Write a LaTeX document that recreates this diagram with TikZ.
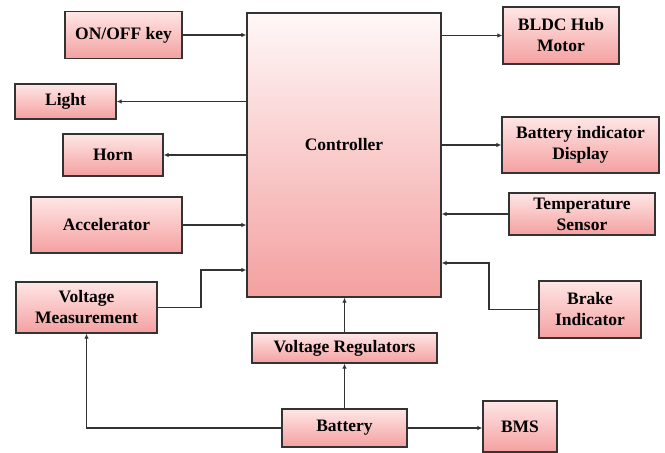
\documentclass[tikz,border=0pt]{standalone}
\usepackage{fontspec}
\setmainfont{Liberation Serif}
\usetikzlibrary{arrows.meta}
\definecolor{edgec}{HTML}{333333}
\definecolor{topc}{HTML}{FFE6E6}
\definecolor{botc}{HTML}{F4A0A0}
\tikzset{
  box/.style={draw=edgec, line width=1.3pt, top color=topc, bottom color=botc,
    align=center, inner sep=1pt, font=\fontsize{17.5}{21}\selectfont\bfseries},
  arr/.style={draw=edgec, line width=1.3pt, -{Latex[length=5pt,width=4.5pt]}},
}
\begin{document}
\begin{tikzpicture}[x=1pt,y=-1pt]
\useasboundingbox (0,0) rectangle (665,453);
\node[box, minimum width=194pt, minimum height=284pt, top color=white!70!topc] (ctrl) at (344,155) {};
\node[font=\fontsize{17.5}{21}\selectfont\bfseries] (ctrltxt) at (344,145) {Controller};
\node[box, minimum width=117pt, minimum height=47pt] (onoff) at (123.5,35) {ON/OFF key};
\node[box, minimum width=101pt, minimum height=35pt] (light) at (65.5,101.5) {Light};
\node[box, minimum width=100pt, minimum height=42pt] (horn) at (113,155) {Horn};
\node[box, minimum width=151pt, minimum height=56pt] (accel) at (106.5,225) {Accelerator};
\node[box, minimum width=141pt, minimum height=51pt] (vm) at (86.5,307.5) {Voltage\\Measurement};
\node[box, minimum width=185pt, minimum height=30pt] (vreg) at (344.5,348) {Voltage Regulators};
\node[box, minimum width=125pt, minimum height=38pt] (batt) at (344.5,428) {Battery};
\node[box, minimum width=74pt, minimum height=51pt] (bms) at (520,426.5) {BMS};
\node[box, minimum width=102pt, minimum height=57pt] (brake) at (590,309.5) {Brake\\Indicator};
\node[box, minimum width=116pt, minimum height=57pt] (bldc) at (561,35.5) {BLDC Hub\\Motor};
\node[box, minimum width=157pt, minimum height=56pt] (bid) at (580.5,145) {Battery indicator\\Display};
\node[box, minimum width=146pt, minimum height=42pt] (temp) at (582,214) {Temperature\\Sensor};

\draw[arr] (onoff.east) -- (onoff.east -| ctrl.west);
\draw[arr] (light.east -| ctrl.west) -- (light.east);
\draw[arr] (horn.east -| ctrl.west) -- (horn.east);
\draw[arr] (accel.east) -- (accel.east -| ctrl.west);
\draw[arr] (vm.east) -- (201,307.5) |- (ctrl.west |- 0,270);
\draw[arr] (bldc.west -| ctrl.east) -- (bldc.west);
\draw[arr] (bid.west -| ctrl.east) -- (bid.west);
\draw[arr] (temp.west) -- (temp.west -| ctrl.east);
\draw[arr] (brake.west) -- (489,309.5) |- (ctrl.east |- 0,263);
\draw[arr] (vreg.north) -- (vreg.north |- ctrl.south);
\draw[arr] (batt.north) -- (batt.north |- vreg.south);
\draw[arr] (batt.east) -- (bms.west |- batt.east);
\draw[arr] (batt.west) -| (vm.south);
\end{tikzpicture}
\end{document}
